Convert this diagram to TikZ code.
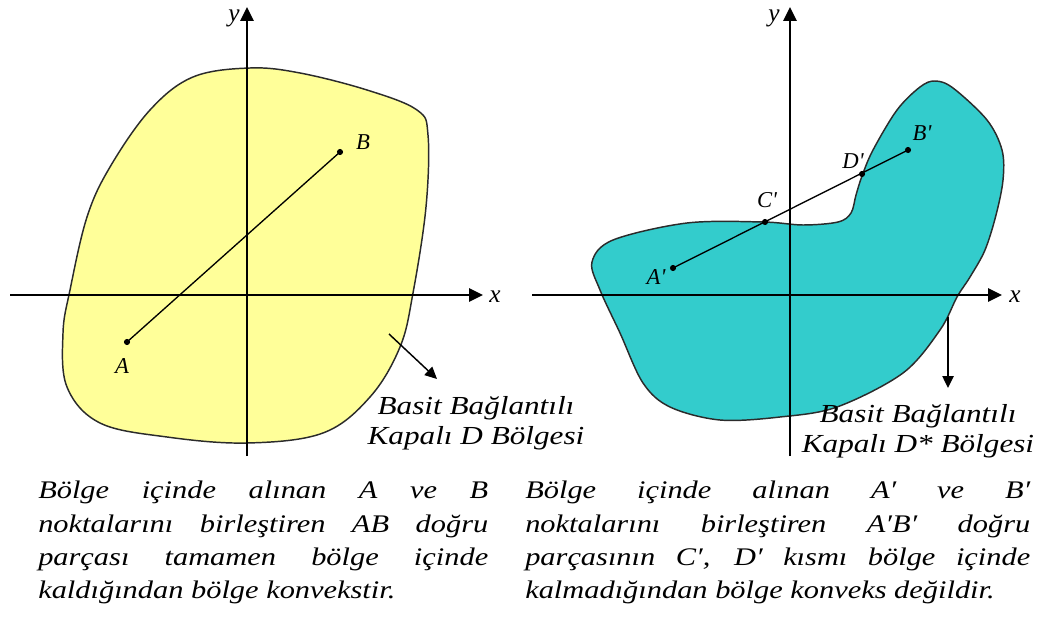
\documentclass[tikz,border=0pt]{standalone}
\usepackage{fontspec}
\setmainfont{Liberation Serif}[ItalicFont={Liberation Serif Italic}]
\newfontfamily\capfont{Liberation Serif}[ItalicFont={Liberation Serif Italic}, FakeStretch=1.2]
\newfontfamily\lblfont{Liberation Serif}[ItalicFont={Liberation Serif Italic}, FakeStretch=1.2]
\usetikzlibrary{arrows.meta}
\definecolor{convfill}{HTML}{FFFF99}
\definecolor{nonconvfill}{HTML}{33CCCC}
\definecolor{rimline}{HTML}{2B2B2B}
\tikzset{
  axisline/.style={line width=1.4pt, -{Triangle[length=10.5pt,width=10pt]}},
  rim/.style={draw=rimline, line width=1.1pt},
  segline/.style={line width=1pt},
  ptlabel/.style={font=\fontsize{17}{20}\selectfont\itshape, inner sep=0pt},
  axislabel/.style={font=\fontsize{19}{22}\selectfont\itshape, inner sep=0pt},
  regionlabel/.style={font=\lblfont\fontsize{19.5}{22.5}\selectfont\itshape, align=center, inner sep=0pt},
  pointer/.style={line width=1.1pt, -{Triangle[length=9pt,width=8.5pt]}},
  captext/.style={font=\capfont\fontsize{19}{25}\selectfont\itshape,
    align=justify, inner sep=0pt, anchor=north west}
}

\begin{document}
\begin{tikzpicture}[x=0.75pt,y=-0.75pt]
  \useasboundingbox (0,0) rectangle (1044,623);

  % convex region
  \draw[rim, fill=convfill] plot[smooth cycle, tension=0.6] coordinates {
    (250,68) (300,73) (367,90) (417,110) (428,135) (426,207) (413,293)
    (400,347) (370,397) (323,433) (247,443) (167,437) (100,423) (67,387)
    (63,333) (70,290) (87,217) (110,167) (150,110) (193,77)};

  % non-convex region
  \draw[rim, fill=nonconvfill] plot[smooth cycle, tension=0.55] coordinates {
    (592,262) (613,240) (687,223) (763,222) (803,225) (838,222) (851,213)
    (856,195) (862,176) (873,150) (897,110) (920,87) (935,81) (953,88)
    (987,120) (1002,150) (1003,180) (996,215) (985,250) (970,277) (957,297)
    (940,330) (903,373) (837,407) (780,417) (720,420) (670,407) (643,383)
    (620,333) (600,290)};

  % left axes
  \coordinate (lxs) at (10,295);
  \coordinate (lxe) at (483,295);
  \coordinate (lys) at (247,456);
  \coordinate (lye) at (247,7);
  \draw[axisline] (lxs) -- (lxe);
  \draw[axisline] (lys) -- (lye);
  \node[axislabel] (lxl) at (495,297) {x};
  \node[axislabel] (lyl) at (234,18) {y};

  % right axes
  \coordinate (rxs) at (532,295);
  \coordinate (rxe) at (1002,295);
  \coordinate (rys) at (790,456);
  \coordinate (rye) at (790,7);
  \draw[axisline] (rxs) -- (rxe);
  \draw[axisline] (rys) -- (rye);
  \node[axislabel] (rxl) at (1015,297) {x};
  \node[axislabel] (ryl) at (774,18) {y};

  % segment AB
  \coordinate (pA) at (127,342);
  \coordinate (pB) at (340,152);
  \draw[segline] (pA) -- (pB);
  \fill (pA) circle[radius=2.3pt];
  \fill (pB) circle[radius=2.3pt];
  \node[ptlabel] (lA) at (122,366) {A};
  \node[ptlabel] (lB) at (363,142) {B};

  % segment A'B'
  \coordinate (pA2) at (673,268);
  \coordinate (pB2) at (908,150);
  \coordinate (pC2) at (765,222);
  \coordinate (pD2) at (862,174);
  \draw[segline] (pA2) -- (pB2);
  \foreach \p in {pA2,pB2,pC2,pD2} \fill (\p) circle[radius=2.3pt];
  \node[ptlabel] (lA2) at (656,277) {A\textquotesingle};
  \node[ptlabel] (lB2) at (922,133) {B\textquotesingle};
  \node[ptlabel] (lC2) at (767,200) {C\textquotesingle};
  \node[ptlabel] (lD2) at (853,161) {D\textquotesingle};

  % region names
  \coordinate (lps) at (389,334);
  \coordinate (lpe) at (437,379);
  \draw[pointer] (lps) -- (lpe);
  \node[regionlabel] (lreg) at (476,423) {Basit Bağlantılı\\Kapalı D Bölgesi};

  \coordinate (rps) at (948,317);
  \coordinate (rpe) at (948,388);
  \draw[pointer] (rps) -- (rpe);
  \node[regionlabel] (rreg) at (918,431) {Basit Bağlantılı\\Kapalı D* Bölgesi};

  % captions
  \node[captext, text width=337.5pt] (lcap) at (38,481)
  {Bölge içinde alınan A ve B\linebreak
   noktalarını birleştiren AB doğru\linebreak
   parçası tamamen bölge içinde\linebreak
   kaldığından bölge konvekstir.};
  \node[captext, text width=378.75pt] (rcap) at (525,481)
  {Bölge içinde alınan A′ ve B′\linebreak
   noktalarını birleştiren A′B′ doğru\linebreak
   parçasının C′, D′ kısmı bölge içinde\linebreak
   kalmadığından bölge konveks değildir.};

\end{tikzpicture}
\end{document}
